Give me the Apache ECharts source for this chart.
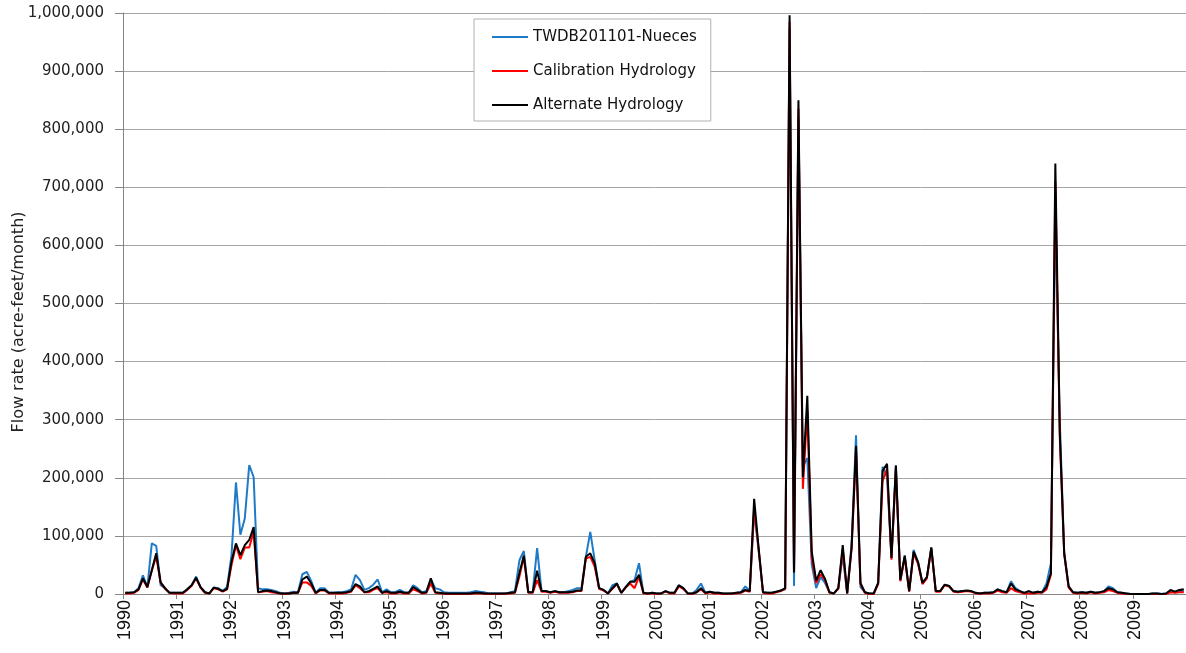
<!DOCTYPE html>
<html><head><meta charset="utf-8">
<script src="https://cdn.jsdelivr.net/npm/echarts@6/dist/echarts.min.js"></script>
<style>html,body{margin:0;padding:0;background:#fff}#c{width:1186px;height:653px}</style>
</head><body><div id="c"></div>
<script>
const years = ['1990','1991','1992','1993','1994','1995','1996','1997','1998','1999','2000','2001','2002','2003','2004','2005','2006','2007','2008','2009'];
const monthNames = ['01','02','03','04','05','06','07','08','09','10','11','12'];
const seriesNames = ['TWDB201101-Nueces','Calibration Hydrology','Alternate Hydrology'];
const yAxisTitle = 'Flow rate (acre-feet/month)';
// monthly flow, acre-feet/month, Jan 1990 - Dec 2009
const twdb = [
2000,2000,3000,10000,32000,12000,87000,83000,15000,10000,2000,2000,
2000,2000,8000,15000,30000,12000,3000,1000,11000,10000,5000,12000,
67000,192000,102000,130000,222000,201000,10000,8000,8000,7000,5000,2000,
1000,2000,4000,3000,34000,38000,22000,2000,10000,10000,2000,2000,
3000,3000,5000,8000,33000,24000,7000,10000,16000,25000,3000,8000,
3000,3000,7000,3000,2000,15000,10000,3000,5000,25000,10000,8000,
3000,2000,2000,2000,2000,2000,3000,5000,4000,3000,1000,1000,
1000,1000,1000,3000,5000,58000,74000,3000,3000,79000,5000,5000,
3000,5000,3000,3000,5000,7000,10000,10000,64000,107000,58000,10000,
7000,1000,15000,18000,2000,12000,21000,24000,53000,2000,1000,2000,
1000,1000,5000,2000,2000,15000,10000,1000,1000,7000,18000,2000,
4000,2000,2000,1000,1000,1000,2000,3000,13000,5000,142000,75000,
3000,2000,2000,4000,6000,8000,975000,14000,820000,219000,234000,51000,
10000,29000,19000,3000,1000,10000,66000,1000,87000,273000,12000,3000,
1000,1000,19000,219000,201000,62000,221000,24000,66000,5000,76000,55000,
19000,29000,80000,5000,5000,16000,14000,5000,4000,5000,5000,5000,
2000,1000,2000,2000,3000,8000,5000,3000,22000,10000,5000,2000,
5000,2000,4000,3000,18000,53000,660000,300000,72000,13000,3000,2000,
3000,2000,4000,2000,3000,5000,13000,10000,3000,2000,1000,0,
0,0,0,0,1000,1000,0,1000,5000,3000,5000,5000];
const calibration = [
1000,1000,2000,7000,25000,11000,40000,65000,19000,9000,2000,1000,
1000,1000,7000,14000,27000,11000,2000,1000,10000,8000,4000,8000,
50000,84000,60000,80000,80000,107000,3000,4000,5000,3000,2000,1000,
0,1000,2000,2000,20000,20000,14000,1000,6000,6000,1000,1000,
1000,1000,2000,4000,15000,10000,3000,3000,7000,10000,2000,3000,
1000,1000,3000,1000,1000,8000,5000,1000,2000,18000,2000,1000,
1000,0,0,0,0,0,1000,1000,1000,1000,0,0,
0,0,1000,1000,2000,30000,64000,2000,2000,24000,4000,4000,
2000,4000,2000,2000,2000,3000,5000,5000,61000,64000,47000,9000,
6000,1000,9000,17000,2000,11000,18000,10000,30000,1000,1000,1000,
0,1000,4000,1000,1000,13000,9000,1000,0,3000,8000,1000,
3000,1000,1000,0,0,1000,1000,2000,6000,4000,148000,78000,
2000,1000,1000,3000,5000,9000,985000,37000,835000,181000,316000,62000,
19000,34000,24000,2000,1000,9000,76000,1000,78000,248000,17000,2000,
0,0,17000,194000,216000,59000,215000,22000,63000,4000,70000,52000,
17000,27000,78000,4000,4000,15000,13000,4000,3000,4000,5000,4000,
1000,1000,1000,1000,2000,6000,3000,2000,10000,5000,3000,1000,
1000,1000,2000,2000,8000,33000,710000,270000,68000,11000,2000,1000,
2000,1000,3000,1000,2000,3000,7000,5000,2000,1000,0,0,
0,0,0,0,0,0,0,0,3000,2000,3000,3000];
const alternate = [
2000,2000,3000,8000,27000,12000,41000,70000,20000,10000,2000,2000,
2000,2000,8000,15000,28000,12000,3000,1000,11000,9000,5000,9000,
56000,87000,67000,84000,93000,115000,3000,5000,6000,5000,3000,1000,
1000,1000,2000,2000,25000,30000,18000,2000,7000,7000,2000,2000,
2000,2000,3000,5000,17000,13000,3000,5000,9000,13000,2000,5000,
2000,2000,4000,2000,2000,12000,7000,2000,3000,27000,3000,2000,
1000,1000,1000,1000,1000,1000,1000,2000,2000,1000,1000,1000,
1000,1000,1000,2000,3000,36000,66000,3000,3000,40000,5000,5000,
3000,5000,3000,3000,3000,4000,6000,6000,64000,70000,53000,10000,
7000,1000,10000,18000,2000,12000,21000,21000,33000,2000,1000,2000,
1000,1000,5000,2000,2000,15000,10000,1000,1000,3000,10000,2000,
4000,2000,2000,1000,1000,1000,2000,3000,7000,5000,164000,80000,
3000,2000,2000,4000,6000,10000,996000,37000,850000,201000,341000,73000,
23000,41000,26000,3000,1000,10000,84000,1000,80000,255000,19000,3000,
1000,1000,19000,212000,224000,62000,221000,24000,66000,5000,73000,55000,
19000,29000,80000,5000,5000,16000,14000,5000,4000,5000,6000,5000,
2000,1000,2000,2000,3000,8000,5000,3000,18000,8000,5000,2000,
5000,2000,4000,3000,12000,36000,741000,280000,70000,13000,3000,2000,
3000,2000,4000,2000,3000,5000,10000,8000,3000,2000,1000,0,
0,0,0,0,1000,1000,0,1000,7000,4000,7000,8000];

const categories = [];
years.forEach(y => monthNames.forEach(m => categories.push(y + '-' + m)));

const chart = echarts.init(document.getElementById('c'), null, {renderer: 'canvas'});
const wideFont = '"DejaVu Sans", sans-serif';
const plainFont = '"Liberation Sans", sans-serif';
chart.setOption({
  animation: false,
  backgroundColor: '#ffffff',
  grid: {left: 123, top: 13, width: 1066, height: 581, containLabel: false},
  legend: {
    orient: 'vertical', left: 474, top: 19,
    data: seriesNames,
    icon: 'rect', itemWidth: 36, itemHeight: 2, itemGap: 14, itemTextGap: 4,
    padding: [8, 14, 6, 18],
    borderColor: '#b0b0b0', borderWidth: 1, backgroundColor: '#ffffff',
    textStyle: {fontFamily: wideFont, fontSize: 15, color: '#111', lineHeight: 20}
  },
  graphic: [{
    type: 'text', x: 19, y: 322, rotation: Math.PI / 2,
    style: {text: yAxisTitle, fontFamily: wideFont, fontSize: 16, fill: '#222', align: 'center', verticalAlign: 'middle'}
  }],
  xAxis: {
    type: 'category', data: categories, boundaryGap: true,
    axisLine: {lineStyle: {color: '#868686', width: 1}},
    axisTick: {show: true, length: 5, interval: (i) => i % 12 === 0, lineStyle: {color: '#868686'}},
    axisLabel: {
      interval: (i) => i % 12 === 0, rotate: 90, margin: 6,
      formatter: (v) => v.slice(0, 4),
      fontFamily: plainFont, fontSize: 18, color: '#111'
    },
    splitLine: {show: false}
  },
  yAxis: {
    type: 'value', min: 0, max: 1000000, interval: 100000,
    axisLine: {show: true, lineStyle: {color: '#868686'}},
    axisTick: {show: true, length: 8, lineStyle: {color: '#868686'}},
    axisLabel: {
      formatter: (v) => v.toLocaleString('en-US'), margin: 19,
      fontFamily: wideFont, fontSize: 15, color: '#222'
    },
    splitLine: {lineStyle: {color: '#a6a6a6', width: 1}}
  },
  series: [
    {name: seriesNames[0], type: 'line', data: twdb, symbol: 'none', lineStyle: {color: '#1f7bc8', width: 2}, itemStyle: {color: '#1f7bc8'}, z: 2},
    {name: seriesNames[1], type: 'line', data: calibration, symbol: 'none', lineStyle: {color: '#ff0000', width: 2}, itemStyle: {color: '#ff0000'}, z: 3},
    {name: seriesNames[2], type: 'line', data: alternate, symbol: 'none', lineStyle: {color: '#000000', width: 2}, itemStyle: {color: '#000000'}, z: 4}
  ]
});
</script></body></html>
